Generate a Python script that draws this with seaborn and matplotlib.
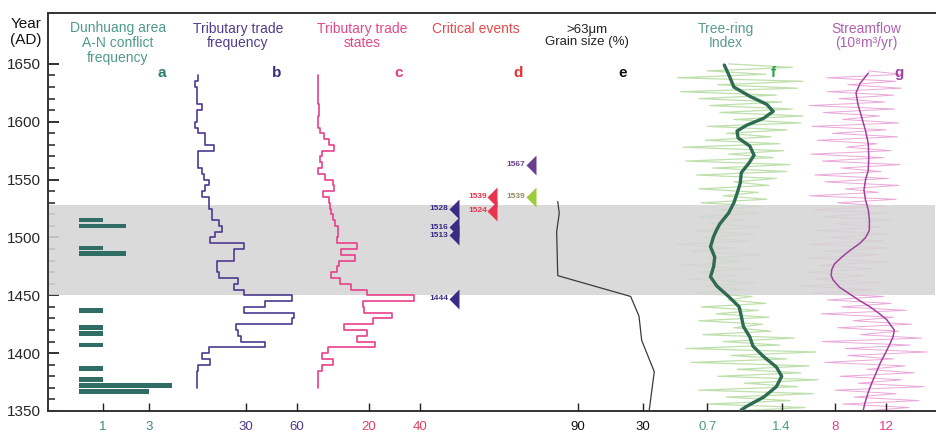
import matplotlib
matplotlib.use("Agg")
import matplotlib.pyplot as plt
import numpy as np
import pandas as pd
import seaborn as sns

sns.set_theme(style="white")
plt.rcParams['font.family'] = ['Liberation Sans', 'DejaVu Sans']

# ---- data ----
# a: Dunhuang area A-N conflict frequency
conflict_year = [1515, 1510, 1491, 1486, 1437, 1422, 1417, 1407, 1387, 1377, 1372, 1367]
conflict_count = [1, 2, 1, 2, 1, 1, 1, 1, 1, 1, 4, 3]

# b, c: 5-year bins starting 1370
bin_start = list(range(1370, 1640, 5))
trade_freq = [1, 1, 1, 2, 9, 4, 8, 41, 27, 25, 24, 57, 58, 29, 41, 57, 29, 23,
              25, 14, 13, 13, 23, 23, 29, 9, 12, 16, 14, 10, 10, 8, 8, 4, 6, 8,
              5, 4, 2, 2, 2, 11, 6, 6, 2, 0, 1, 1, 4, 1, 1, 1, 0, 2]
trade_states = [0, 0, 0, 1.7, 6.1, 1.5, 4.1, 22.4, 15.5, 19.2, 10.4, 21.7, 29.0,
                18.1, 17.6, 37.9, 19.2, 13.0, 8.7, 5.3, 7.3, 8.3, 14.5, 9.1, 15.3,
                7.3, 8.0, 7.7, 6.7, 6.1, 5.3, 4.7, 4.3, 2.1, 6.4, 6.1, 2.7, 0.1,
                1.5, 0.8, 1.5, 6.4, 4.3, 2.5, 0.8, 0, 0, 0.4, 0.4, 0, 0, 0, 0, 0]

# d: critical events (label year, column, plotted position)
event_label = [1528, 1516, 1513, 1444, 1539, 1524, 1539, 1567]
event_col = [0, 0, 0, 0, 1, 1, 2, 2]
event_pos = [1525, 1509, 1502, 1447, 1535, 1523, 1535, 1563]
event_color = ['#3b2a86', '#3b2a86', '#3b2a86', '#3b2a86',
               '#e8344e', '#e8344e', '#9dcc3a', '#6b3f8f']
event_text_color = ['#3b2a86', '#3b2a86', '#3b2a86', '#3b2a86',
                    '#e8344e', '#e8344e', '#8c8c60', '#6b3f8f']

# e: >63um grain size
grain_year = [1351, 1384, 1411, 1432, 1449, 1467, 1505, 1521, 1531]
grain_val = [24.2, 19.6, 31.2, 33.7, 41.4, 108.7, 109.7, 107.3, 108.7]

# f: tree-ring index (3-yr samples + smoothed curve)
ring_year = list(range(1350, 1651, 3))
ring_raw = [0.95, 1.62, 0.70, 1.48, 0.88, 1.70, 0.62, 1.55, 1.05, 1.74,
            0.80, 1.58, 0.98, 1.66, 0.55, 1.45, 0.92, 1.72, 0.50, 1.38,
            0.85, 1.52, 0.66, 1.30, 0.95, 1.22, 0.62, 1.28, 0.78, 1.18,
            0.64, 1.25, 0.90, 1.12, 0.58, 1.05, 0.70, 1.15, 0.52, 0.98,
            0.62, 1.10, 0.45, 1.02, 0.70, 1.20, 0.55, 0.95, 0.40, 1.08,
            0.66, 1.15, 0.58, 1.22, 0.72, 1.05, 0.62, 1.18, 0.80, 1.20,
            0.64, 1.26, 0.85, 1.18, 0.62, 1.28, 0.95, 1.35, 0.60, 1.45,
            0.75, 1.48, 0.50, 1.32, 0.90, 1.42, 0.47, 1.38, 0.68, 1.30,
            0.88, 1.45, 0.70, 1.58, 0.95, 1.60, 0.82, 1.50, 0.72, 1.40,
            0.62, 1.35, 0.45, 1.55, 0.80, 1.60, 0.42, 1.25, 0.70, 1.50,
            0.90]
ring_smooth_year = [1351, 1354, 1362, 1371, 1380, 1388, 1397, 1406, 1414, 1423,
                    1432, 1440, 1449, 1458, 1466, 1475, 1483, 1492, 1501, 1507,
                    1512, 1521, 1530, 1538, 1547, 1556, 1564, 1571, 1579, 1586,
                    1592, 1597, 1603, 1609, 1615, 1622, 1630, 1639, 1649]
ring_smooth = [1.02, 1.07, 1.23, 1.35, 1.40, 1.35, 1.23, 1.13, 1.10, 1.04,
               1.02, 1.00, 0.90, 0.79, 0.73, 0.76, 0.77, 0.73, 0.76, 0.79,
               0.82, 0.90, 0.95, 0.98, 1.01, 1.02, 1.09, 1.14, 1.10, 0.99,
               0.98, 1.07, 1.23, 1.32, 1.26, 1.10, 0.95, 0.91, 0.86]

# g: streamflow (3-yr samples + smoothed curve)
flow_year = list(range(1350, 1645, 3))
flow_raw = [10.2, 13.8, 8.6, 14.6, 9.5, 12.8, 8.0, 15.0, 9.8, 13.2,
            8.4, 14.2, 10.5, 13.5, 7.2, 12.6, 9.0, 15.2, 8.8, 13.9,
            7.0, 14.8, 10.0, 13.0, 8.2, 14.0, 9.4, 12.6, 6.9, 13.6,
            8.5, 12.4, 7.4, 11.8, 6.2, 10.9, 5.3, 11.5, 6.4, 10.2,
            5.6, 11.0, 6.8, 12.0, 5.8, 11.4, 7.2, 12.3, 6.0, 11.8,
            7.5, 12.2, 6.6, 11.6, 8.0, 12.5, 7.0, 11.9, 6.3, 12.0,
            8.2, 12.8, 6.0, 11.4, 8.8, 13.0, 7.2, 12.2, 6.4, 11.6,
            8.5, 13.1, 7.0, 11.8, 6.1, 12.4, 8.9, 11.3, 6.6, 12.9,
            7.8, 12.0, 6.2, 13.0, 8.6, 11.5, 7.1, 12.7, 6.0, 11.9,
            8.3, 12.6, 7.4, 13.2, 9.0, 12.8, 7.35, 13.3, 10.6]
flow_smooth_year = [1351, 1357, 1366, 1374, 1391, 1400, 1408, 1414, 1420, 1429,
                    1434, 1440, 1446, 1452, 1457, 1463, 1467, 1472, 1477, 1483,
                    1489, 1495, 1500, 1506, 1515, 1524, 1532, 1541, 1550, 1558,
                    1570, 1581, 1592, 1604, 1615, 1625, 1633, 1642]
flow_smooth = [10.22, 10.35, 10.6, 10.88, 11.53, 11.95, 12.31, 12.55, 12.65, 12.05,
               11.5, 10.75, 9.85, 9.04, 8.35, 7.87, 7.7, 7.74, 7.95, 8.53,
               9.2, 9.96, 10.4, 10.69, 10.7, 10.61, 10.4, 10.27, 10.4, 10.61,
               10.65, 10.61, 10.4, 10.09, 9.8, 9.65, 9.96, 10.61]

band = (1450, 1528)

# ---- layout (pixels) ----
W, H = 936, 434
L, R, B, T = 48, 935, 411, 13
rect = [L / W, 1 - B / H, (R - L) / W, (B - T) / H]
ymin, ymax = 1350, 1694

fig = plt.figure(figsize=(W / 100, H / 100), dpi=100)


def panel(z, v0, p0, v1, p1, ticks=None, tcolor='k'):
    a = fig.add_axes(rect, zorder=z)
    k = (p1 - p0) / (v1 - v0)
    a.set_xlim(v0 + (L - p0) / k, v0 + (R - p0) / k)
    a.set_ylim(ymin, ymax)
    a.patch.set_visible(False)
    for s in a.spines.values():
        s.set_visible(False)
    a.set_yticks([])
    a.set_ylabel('')
    a.set_xlabel('')
    if ticks:
        a.set_xticks(ticks)
        a.set_xticklabels([str(t) for t in ticks])
        a.tick_params(axis='x', direction='in', length=6, width=1, color='#222',
                      labelcolor=tcolor, labelsize=9.5, pad=7, bottom=True)
    else:
        a.set_xticks([])
    return a


def steps(vals):
    xs, ys = [], []
    for y0, v in zip(bin_start, vals):
        xs += [v, v]
        ys += [y0, y0 + 5]
    return xs, ys


# noise layers sit under the grey band
ax_fn = panel(1, 0.7, 707.3, 1.4, 781.7)
sns.lineplot(x=ring_raw, y=ring_year, sort=False, estimator=None,
             color='#bfe0ad', lw=0.9, ax=ax_fn)
ax_gn = panel(1, 8, 835, 12, 886)
sns.lineplot(x=flow_raw, y=flow_year, sort=False, estimator=None,
             color='#eaa8d8', lw=0.7, ax=ax_gn)
for a in (ax_fn, ax_gn):
    a.set_xlabel('')
    a.set_ylabel('')

# main frame with band and year axis
ax = fig.add_axes(rect, zorder=2)
ax.patch.set_visible(False)
ax.set_ylim(ymin, ymax)
ax.set_xlim(0, 1)
ax.axhspan(band[0], band[1], color='#d5d5d5', alpha=0.88, lw=0)
ax.set_xticks([])
ax.set_yticks(np.arange(1350, 1651, 50))
ax.set_yticks(np.arange(1350, 1651, 10), minor=True)
ax.tick_params(axis='y', which='major', direction='in', length=8, width=1.3,
               color='#222', labelsize=11, pad=5, left=True)
ax.tick_params(axis='y', which='minor', direction='in', length=5, width=1.1,
               color='#222', left=True)
for s in ['left', 'top', 'bottom']:
    ax.spines[s].set_color('#333')
    ax.spines[s].set_linewidth(1.4)
ax.spines['right'].set_visible(False)

# a
ax_a = panel(3, 1, 102.6, 3, 149.2, [1, 3], '#3f8a7c')
ax_a.barh(conflict_year, conflict_count, height=4, left=0, color='#2f6d65', lw=0)

# b
ax_b = panel(3, 30, 246, 60, 297, [30, 60], '#4a3a8e')
xs, ys = steps(trade_freq)
sns.lineplot(x=xs, y=ys, sort=False, estimator=None, color='#4b3b8f', lw=1.2, ax=ax_b)

# c
ax_c = panel(3, 20, 368.8, 40, 419.6, [20, 40], '#e8405e')
xs, ys = steps(trade_states)
sns.lineplot(x=xs, y=ys, sort=False, estimator=None, color='#e8408a', lw=1.2, ax=ax_c)

# d
ax_d = panel(3, 0, 454, 2, 531)
tri = [(-0.5, 0), (0.5, 1), (0.5, -1)]
for lab, col, pos, c, tc in zip(event_label, event_col, event_pos, event_color, event_text_color):
    ax_d.plot([col], [pos], ls='none', marker=tri, ms=14.4, color=c, mec='none')
    ax_d.annotate(str(lab), (col, pos), xytext=(-4, 0), textcoords='offset points',
                  ha='right', va='center', fontsize=6, fontweight='bold', color=tc)

# e
ax_e = panel(3, 90, 578, 30, 643, [90, 30], '#111')
sns.lineplot(x=grain_val, y=grain_year, sort=False, estimator=None,
             color='#3a3a3a', lw=0.9, ax=ax_e)

# f
ax_f = panel(3, 0.7, 707.3, 1.4, 781.7, [0.7, 1.4], '#4e9a80')
sns.lineplot(x=ring_smooth, y=ring_smooth_year, sort=False, estimator=None,
             color='#2e6b52', lw=2.4, ax=ax_f)

# g
ax_g = panel(3, 8, 835, 12, 886, [8, 12], '#e03c8a')
sns.lineplot(x=flow_smooth, y=flow_smooth_year, sort=False, estimator=None,
             color='#a0409a', lw=1.1, ax=ax_g)

for a in (ax_a, ax_b, ax_c, ax_d, ax_e, ax_f, ax_g):
    a.set_xlabel('')
    a.set_ylabel('')

# ---- header texts ----
def ftext(px, py, s, **kw):
    fig.text(px / W, 1 - py / H, s, ha='center', va='center', **kw)


ftext(26, 32, 'Year\n(AD)', fontsize=11, color='#111', linespacing=1.1)
ftext(118, 43, 'Dunhuang area\nA-N conflict\nfrequency', fontsize=10, color='#4e9a8c', linespacing=1.05)
ftext(238, 36, 'Tributary trade\nfrequency', fontsize=10, color='#4f3d8c', linespacing=1.05)
ftext(362, 36, 'Tributary trade\nstates', fontsize=10, color='#e8468a', linespacing=1.05)
ftext(476, 29, 'Critical events', fontsize=10, color='#e84848')
ftext(587, 36, '>63\u03bcm\nGrain size (%)', fontsize=9.5, color='#222', linespacing=1.05)
ftext(726, 36, 'Tree-ring\nIndex', fontsize=10, color='#5a9a8c', linespacing=1.05)
ftext(866, 36, 'Streamflow\n(10\u2078m\u00b3/yr)', fontsize=10, color='#b060b0', linespacing=1.05)

letters = ['a', 'b', 'c', 'd', 'e', 'f', 'g']
letter_x = [162, 277, 399, 518, 623, 773, 899]
letter_c = ['#2e7d6e', '#3a2d7c', '#e8357e', '#e83030', '#111111', '#2aa048', '#a040a0']
for lt, lx, lc in zip(letters, letter_x, letter_c):
    ftext(lx, 73, lt, fontsize=11, fontweight='bold', color=lc)

fig.savefig('out.png', dpi=100)
